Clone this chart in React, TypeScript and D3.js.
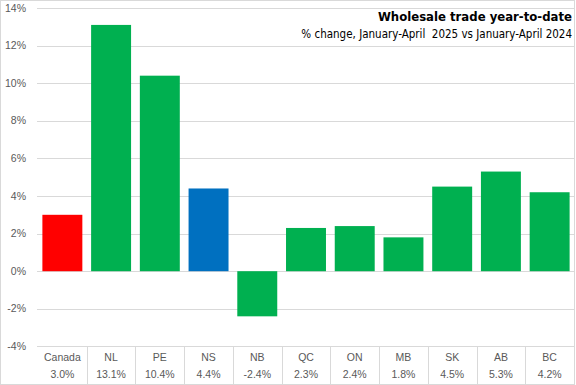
import React, { useEffect, useRef } from "react";
import * as d3 from "d3";

const categories = ["Canada", "NL", "PE", "NS", "NB", "QC", "ON", "MB", "SK", "AB", "BC"];
const changes = [3.0, 13.1, 10.4, 4.4, -2.4, 2.3, 2.4, 1.8, 4.5, 5.3, 4.2];
const yTicks = [-4, -2, 0, 2, 4, 6, 8, 10, 12, 14];

const width = 576;
const height = 385;
const margin = { top: 8, right: 2, bottom: 38, left: 38 };

function barColor(cat: string) {
  if (cat === "Canada") return "#ff0000";
  if (cat === "NS") return "#0070c0";
  return "#00b050";
}

function WholesaleChart() {
  const ref = useRef<SVGSVGElement | null>(null);

  useEffect(() => {
    const svg = d3.select(ref.current);
    svg.selectAll("*").remove();

    const x = d3
      .scaleBand()
      .domain(categories)
      .range([margin.left, width - margin.right])
      .paddingInner(0.18)
      .paddingOuter(0.09);

    const y = d3
      .scaleLinear()
      .domain([-4, 14])
      .range([height - margin.bottom - 0.6, margin.top]);

    svg
      .append("rect")
      .attr("x", 0.5)
      .attr("y", 0.5)
      .attr("width", width - 2)
      .attr("height", height - 1)
      .attr("fill", "#fff")
      .attr("stroke", "#d9d9d9");

    // gridlines
    svg
      .append("g")
      .selectAll("line")
      .data(yTicks)
      .enter()
      .append("line")
      .attr("x1", margin.left - 1)
      .attr("x2", width - margin.right)
      .attr("y1", (d) => Math.round(y(d)) + 0.5)
      .attr("y2", (d) => Math.round(y(d)) + 0.5)
      .attr("stroke", "#d9d9d9")
      .attr("stroke-width", 1);

    svg
      .append("g")
      .selectAll("text")
      .data(yTicks)
      .enter()
      .append("text")
      .attr("x", 26)
      .attr("y", (d) => y(d))
      .attr("dy", "0.35em")
      .attr("text-anchor", "end")
      .attr("fill", "#595959")
      .attr("font-size", "10.5px")
      .attr("font-family", "'Liberation Sans', Arial, sans-serif")
      .text((d) => d + "%");

    // bars
    svg
      .append("g")
      .selectAll("rect")
      .data(categories)
      .enter()
      .append("rect")
      .attr("x", (d) => x(d)!)
      .attr("width", x.bandwidth())
      .attr("y", (_, i) => y(Math.max(0, changes[i])))
      .attr("height", (_, i) => Math.abs(y(changes[i]) - y(0)))
      .attr("fill", (d) => barColor(d));

    // data table below the axis
    const tableTop = Math.round(y(-4)) + 0.5;
    const step = x.step();
    const bandStart = (d: string) => x(d)! - (step - x.bandwidth()) / 2;
    svg
      .append("g")
      .selectAll("line")
      .data(categories.slice(1))
      .enter()
      .append("line")
      .attr("x1", (d) => Math.round(bandStart(d)) + 0.5)
      .attr("x2", (d) => Math.round(bandStart(d)) + 0.5)
      .attr("y1", tableTop)
      .attr("y2", height)
      .attr("stroke", "#d9d9d9");

    const labels = svg
      .append("g")
      .attr("fill", "#595959")
      .attr("font-size", "10.5px")
      .attr("font-family", "'Liberation Sans', Arial, sans-serif")
      .attr("text-anchor", "middle");

    labels
      .selectAll("text.cat")
      .data(categories)
      .enter()
      .append("text")
      .attr("class", "cat")
      .attr("x", (d) => x(d)! + x.bandwidth() / 2)
      .attr("y", 357)
      .attr("dy", "0.35em")
      .text((d) => d);

    labels
      .selectAll("text.val")
      .data(categories)
      .enter()
      .append("text")
      .attr("class", "val")
      .attr("x", (d) => x(d)! + x.bandwidth() / 2)
      .attr("y", 374.5)
      .attr("dy", "0.35em")
      .text((_, i) => changes[i].toFixed(1) + "%");

    // title block
    svg
      .append("text")
      .attr("x", 572)
      .attr("y", 21)
      .attr("text-anchor", "end")
      .attr("font-size", "13px")
      .attr("font-weight", "bold")
      .attr("fill", "#000")
      .attr("font-family", "'Liberation Sans Narrow', 'DejaVu Sans Condensed', 'Roboto', sans-serif")
      .text("Wholesale trade year-to-date");

    svg
      .append("text")
      .attr("x", 572)
      .attr("y", 38)
      .attr("text-anchor", "end")
      .attr("font-size", "11.5px")
      .attr("fill", "#000")
      .attr("font-family", "'Liberation Sans Narrow', 'DejaVu Sans Condensed', 'Roboto', sans-serif")
      .attr("xml:space", "preserve")
      .text("% change, January-April  2025 vs January-April 2024");
  }, []);

  return <svg ref={ref} width={width} height={height} style={{ display: "block" }} />;
}

export default function App() {
  return (
    <div style={{ position: "absolute", left: 0, top: 0 }}>
      <WholesaleChart />
    </div>
  );
}
